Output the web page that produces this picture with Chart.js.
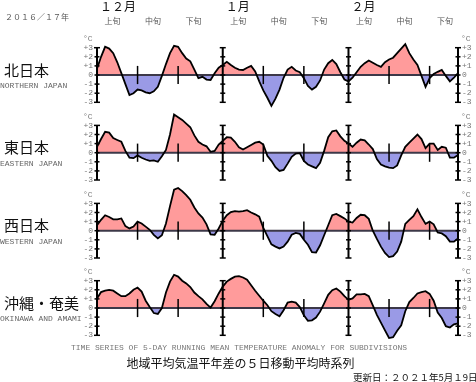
<!DOCTYPE html>
<html><head><meta charset="utf-8">
<script src="https://cdn.jsdelivr.net/npm/chart.js@4/dist/chart.umd.min.js"></script>
<style>
html,body{margin:0;padding:0;background:#fff;overflow:hidden}
#wrap{position:relative;width:476px;height:382px}
canvas{display:block}
</style>
</head><body>
<div id="wrap"><canvas id="c" width="476" height="382"></canvas></div>
<script>
// ---- data (°C anomaly, 5-day running mean, 2016/12/1 - 2017/2/28) ----
const regionsJa = ['北日本', '東日本', '西日本', '沖縄・奄美'];
const regionsEn = ['NORTHERN JAPAN', 'EASTERN JAPAN', 'WESTERN JAPAN', 'OKINAWA AND AMAMI'];
const monthLabels = ['１２月', '１月', '２月'];
const dekadLabels = ['上旬', '中旬', '下旬'];
const tickValues = [3, 2, 1, 0, -1, -2, -3];
const tickLabels = ['+3', '+2', '+1', '0', '-1', '-2', '-3'];

const north = [
  0.7, 2.0, 3.1, 2.9, 2.4, 1.4, 0.2, -1.0, -2.2, -2.0,
  -1.6, -1.7, -1.9, -2.0, -1.8, -1.3, -0.1, 1.2, 2.4, 3.2,
  3.1, 2.4, 1.8, 1.5, 0.6, -0.35, -0.2, -0.5, -0.55, 0.2, 0.8,
  1.1, 1.45, 1.1, 0.8, 0.6, 0.55, 0.8, 1.0, 0.4, -0.7,
  -1.7, -2.5, -3.4, -2.6, -1.6, -0.3, 0.6, 0.9, 0.5, 0.3,
  -0.35, -1.2, -1.6, -1.3, -0.6, 0.6, 1.3, 1.65, 1.2, 0.3, -0.5,
  -0.7, -0.3, 0.3, 0.9, 1.3, 1.6, 1.35, 1.1, 0.9, 1.4,
  1.7, 1.9, 2.4, 2.9, 3.4, 2.4, 1.7, 1.1, -0.1, -1.3,
  -0.35, 0.1, 0.35, 0.55, -0.1, -0.7, -0.3, 0.2
];
const east = [
  0.65, 1.5, 2.3, 2.2, 1.6, 1.4, 1.2, 0.2, -0.55, -0.6,
  -0.3, -0.55, -0.75, -0.9, -0.85, -1.0, -0.4, 0.3, 2.0, 4.2,
  3.9, 3.6, 3.2, 2.8, 1.9, 1.2, 0.9, 0.7, 0.1, 0.2, 0.9,
  1.3, 1.7, 1.65, 1.2, 0.6, 0.35, 0.6, 0.85, 1.1, 1.2,
  0.9, -0.35, -0.9, -1.6, -2.0, -1.9, -1.2, -0.45, -0.1, -0.05,
  -0.9, -1.3, -1.5, -1.7, -1.1, 0.2, 1.7, 2.35, 2.45, 1.8, 1.3,
  1.0, 0.65, 1.1, 1.45, 1.35, 0.9, 0.4, -0.7, -1.3, -1.5,
  -1.65, -1.7, -1.4, -0.3, 0.65, 1.1, 1.55, 2.0, 1.5, 0.5,
  1.0, 1.0, 0.3, 0.65, 0.55, -0.55, -0.55, -0.25
];
const west = [
  0.6, 1.2, 1.7, 1.5, 1.25, 1.25, 1.35, 0.5, 0.25, 0.45,
  1.0, 0.8, 0.45, 0.1, -0.45, -0.85, -0.5, 0.8, 2.7, 4.5,
  4.7, 4.35, 3.9, 3.4, 2.55, 1.9, 1.45, 0.7, -0.4, -0.45, 0.25,
  1.1, 1.7, 2.05, 2.15, 2.1, 2.15, 2.25, 2.0, 1.8, 1.55,
  0.3, -0.6, -1.5, -1.75, -1.95, -1.75, -1.2, -0.45, -0.25, -0.35,
  -1.0, -1.55, -2.35, -2.4, -1.6, -0.5, 0.6, 1.7, 1.85, 1.6, 1.35,
  1.0, 0.9, 1.4, 1.75, 1.7, 1.3, 0.0, -0.9, -1.75, -2.45,
  -2.9, -2.8, -2.3, -1.2, 0.75, 1.2, 1.6, 2.35, 1.5, 0.75,
  1.0, 0.7, -0.2, -0.3, -0.6, -1.2, -1.2, -0.85
];
const okinawa = [
  1.05, 1.75, 1.9, 2.0, 1.9, 1.6, 1.3, 1.3, 1.6, 2.0,
  2.25, 1.8, 0.8, 0.1, -0.55, -0.65, 0.0, 1.7, 2.9, 3.65,
  3.45, 3.0, 2.7, 2.3, 1.7, 1.3, 0.95, 0.45, 0.05, 0.75, 1.6,
  2.35, 2.9, 3.2, 3.45, 3.5, 3.35, 3.1, 2.5, 1.9, 1.35,
  0.8, 0.3, -0.35, -0.65, -0.9, -0.25, 0.6, 0.7, 0.6, 0.1,
  -0.8, -1.4, -1.35, -1.05, -0.4, 0.5, 1.45, 1.95, 2.15, 1.8, 1.3,
  0.9, 1.05, 1.5, 1.5, 1.55, 1.3, 0.3, -0.75, -1.6, -2.45,
  -3.3, -3.2, -2.5, -1.9, -0.35, 0.65, 1.1, 1.6, 1.75, 1.85,
  1.55, 0.8, -0.5, -1.1, -2.0, -2.15, -1.8, -1.7
];
const series = [north, east, west, okinawa];

// day labels 12/1 .. 2/28
const monthDays = [[12, 31], [1, 31], [2, 28]];
const days = [];
monthDays.forEach(([m, n]) => { for (let d = 1; d <= n; d++) days.push(m + '/' + d); });
const monthStarts = monthDays.map(([m]) => days.indexOf(m + '/1'));
const dekadStarts = [];
monthDays.forEach(([m]) => ['1', '11', '21'].forEach(d => dekadStarts.push(days.indexOf(m + '/' + d))));

// ---- layout ----
const W = 476, H = 382;
const panelZero = [75, 152.7, 230.7, 308];   // pixel row of 0°C in each panel
const pxPerDeg = 9.1;

const yScales = {};
panelZero.forEach((z, k) => {
  const max = z / pxPerDeg;
  yScales['y' + k] = { type: 'linear', display: false, min: max - H / pxPerDeg, max: max };
});

const PINK = '#ff9b9b', BLUE = '#9a9ae6';
const datasets = series.map((s, k) => ({
  data: s, yAxisID: 'y' + k,
  borderColor: '#000', borderWidth: 1.8, pointRadius: 0, tension: 0,
  fill: { target: 'origin', above: PINK, below: BLUE }
}));

const CJK = '"Noto Sans CJK JP", sans-serif';
const MONO = '"Liberation Mono", "DejaVu Sans Mono", monospace';

const deco = {
  id: 'deco',
  beforeDatasetsDraw(chart) {
    const ctx = chart.ctx, xs = chart.scales.x;
    ctx.save();
    ctx.strokeStyle = '#3c3848'; ctx.lineWidth = 2;
    panelZero.forEach((_, k) => {
      const y = chart.scales['y' + k].getPixelForValue(0);
      ctx.beginPath(); ctx.moveTo(xs.getPixelForValue(0), y); ctx.lineTo(xs.getPixelForValue(days.length - 1), y); ctx.stroke();
    });
    ctx.restore();
  },
  afterDatasetsDraw(chart) {
    const ctx = chart.ctx, xs = chart.scales.x;
    const last = days.length - 1;
    ctx.save();
    ctx.strokeStyle = '#000';
    panelZero.forEach((_, k) => {
      const ys = chart.scales['y' + k];
      const yTop = ys.getPixelForValue(3), yBot = ys.getPixelForValue(-3);
      // full axes: left, month boundaries, right
      [0, ...monthStarts.slice(1), last].forEach(i => {
        const x = xs.getPixelForValue(i);
        ctx.lineWidth = 2;
        ctx.beginPath(); ctx.moveTo(x, yTop); ctx.lineTo(x, yBot); ctx.stroke();
        ctx.lineWidth = 1.5;
        tickValues.forEach(v => {
          const y = ys.getPixelForValue(v);
          const w = (v === 3 || v === -3) ? 3 : 2.5;
          ctx.beginPath(); ctx.moveTo(x - w, y); ctx.lineTo(x + w, y); ctx.stroke();
        });
      });
      // dekad marks
      ctx.lineWidth = 1.5;
      dekadStarts.filter(i => !monthStarts.includes(i)).forEach(i => {
        const x = xs.getPixelForValue(i);
        ctx.beginPath(); ctx.moveTo(x, ys.getPixelForValue(1)); ctx.lineTo(x, ys.getPixelForValue(-1)); ctx.stroke();
      });
      // tick labels
      ctx.fillStyle = '#777'; ctx.font = '8px ' + MONO; ctx.textBaseline = 'middle';
      const xl = xs.getPixelForValue(0), xr = xs.getPixelForValue(last);
      tickValues.forEach((v, j) => {
        const y = ys.getPixelForValue(v);
        ctx.textAlign = 'right'; ctx.fillText(tickLabels[j], xl - 4, y);
        ctx.textAlign = 'left'; ctx.fillText(tickLabels[j], xr + 4, y);
      });
      const yC = ys.getPixelForValue(3.95);
      ctx.textAlign = 'left';
      ctx.fillText('°C', xl - 14, yC);
      ctx.fillText('°C', xr + 3, yC);
      // region names
      const y0 = ys.getPixelForValue(0);
      ctx.fillStyle = '#111'; ctx.font = '15px ' + CJK; ctx.textAlign = 'left';
      ctx.fillText(regionsJa[k], 4, y0 - 5);
      ctx.fillStyle = '#666'; ctx.font = '8px ' + MONO;
      ctx.fillText(regionsEn[k], 0, y0 + 11);
    });
    // month & dekad headers
    ctx.textBaseline = 'alphabetic';
    monthStarts.forEach((i, m) => {
      ctx.fillStyle = '#111'; ctx.font = '12px ' + CJK; ctx.textAlign = 'left';
      ctx.fillText(monthLabels[m], xs.getPixelForValue(i) + 3, 11);
    });
    ctx.fillStyle = '#555'; ctx.font = '8px ' + CJK; ctx.textAlign = 'center';
    dekadStarts.forEach((i, j) => {
      ctx.fillText(dekadLabels[j % 3], xs.getPixelForValue(i + 3.8), 24);
    });
    ctx.textAlign = 'left';
    ctx.fillText('２０１６／１７年', 5, 20);
    // footer
    ctx.fillStyle = '#777'; ctx.font = '8px ' + MONO; ctx.textAlign = 'center';
    ctx.fillText('TIME SERIES OF 5-DAY RUNNING MEAN TEMPERATURE ANOMALY FOR SUBDIVISIONS', 239, 350);
    ctx.fillStyle = '#111'; ctx.font = '12px ' + CJK;
    ctx.fillText('地域平均気温平年差の５日移動平均時系列', 240.5, 368);
    ctx.font = '9.5px ' + CJK; ctx.textAlign = 'left';
    ctx.fillText('更新日：２０２１年5月１9日', 353, 381);
    ctx.restore();
  }
};

new Chart(document.getElementById('c'), {
  type: 'line',
  data: { labels: days, datasets },
  options: {
    responsive: false, animation: false, devicePixelRatio: 1,
    layout: { padding: { left: 97, right: W - 458, top: 0, bottom: 0 } },
    scales: Object.assign({ x: { type: 'category', display: false, offset: false } }, yScales),
    plugins: { legend: { display: false }, tooltip: { enabled: false }, filler: { drawTime: 'beforeDatasetsDraw' } }
  },
  plugins: [deco]
});
</script>
</body></html>
